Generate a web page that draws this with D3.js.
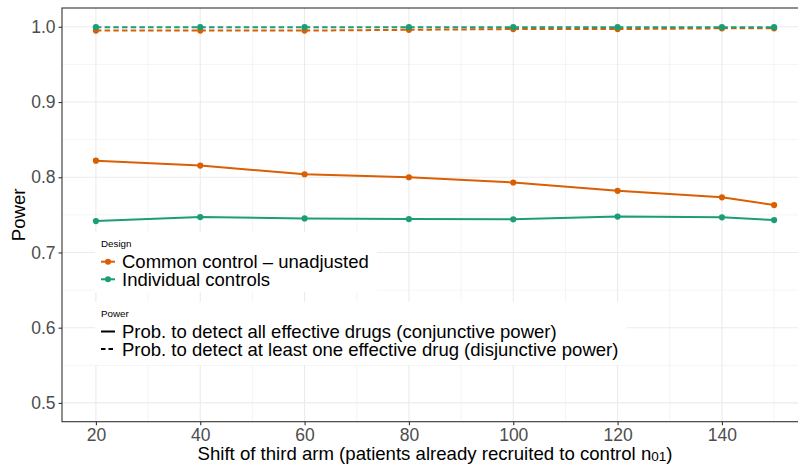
<!DOCTYPE html>
<html>
<head>
<meta charset="utf-8">
<script src="https://cdn.jsdelivr.net/npm/d3@7"></script>
<style>
  body { margin: 0; background: #fff; }
  svg { display: block; font-family: "Liberation Sans", Arial, sans-serif; }
</style>
</head>
<body>
<svg id="chart" width="798" height="464"></svg>
<script>
// ---- data ----
const shifts = [20, 40, 60, 80, 100, 120, 140, 150];
const commonConj = [0.822, 0.8155, 0.804, 0.800, 0.793, 0.782, 0.7733, 0.763];
const indivConj  = [0.7417, 0.747, 0.7453, 0.7444, 0.744, 0.7477, 0.7467, 0.7431];
const commonDisj = [0.995, 0.995, 0.995, 0.996, 0.997, 0.997, 0.998, 0.998];
const indivDisj  = [0.9995, 0.9995, 0.9995, 0.9995, 0.9995, 0.9995, 0.9995, 0.9995];
const xTicks = [20, 40, 60, 80, 100, 120, 140];
const xMinor = [30, 50, 70, 90, 110, 130, 150];
const yTicks = [0.5, 0.6, 0.7, 0.8, 0.9, 1.0];
const yMinor = [0.55, 0.65, 0.75, 0.85, 0.95];
const designNames = ["Common control \u2013 unadjusted", "Individual controls"];
const powerNames = ["Prob. to detect all effective drugs (conjunctive power)",
                    "Prob. to detect at least one effective drug (disjunctive power)"];
const colors = ["#D95F02", "#1B9E77"];

const series = [
  { vals: commonConj, design: 0, dashed: false },
  { vals: indivConj, design: 1, dashed: false },
  { vals: commonDisj, design: 0, dashed: true },
  { vals: indivDisj, design: 1, dashed: true }
];

// ---- layout ----
const svg = d3.select("#chart");
const L = 62, R = 808, T = 8, B = 421.7;
const x = d3.scaleLinear().domain([13.5, 156.5]).range([L, R]);
const y = d3.scaleLinear().domain([0.475, 1.025]).range([B, T]);

// panel background
svg.append("rect").attr("x", L).attr("y", T).attr("width", R - L).attr("height", B - T).attr("fill", "#fff");

// grid
const grid = svg.append("g");
grid.selectAll(".ym").data(yMinor).join("line")
  .attr("x1", L).attr("x2", R).attr("y1", d => y(d)).attr("y2", d => y(d))
  .attr("stroke", "#EBEBEB").attr("stroke-width", 0.55);
grid.selectAll(".xm").data(xMinor).join("line")
  .attr("y1", T).attr("y2", B).attr("x1", d => x(d)).attr("x2", d => x(d))
  .attr("stroke", "#EBEBEB").attr("stroke-width", 0.55);
grid.selectAll(".yM").data(yTicks).join("line")
  .attr("x1", L).attr("x2", R).attr("y1", d => y(d)).attr("y2", d => y(d))
  .attr("stroke", "#EBEBEB").attr("stroke-width", 1.1);
grid.selectAll(".xM").data(xTicks).join("line")
  .attr("y1", T).attr("y2", B).attr("x1", d => x(d)).attr("x2", d => x(d))
  .attr("stroke", "#EBEBEB").attr("stroke-width", 1.1);

// lines
const line = d3.line().x((d, i) => x(shifts[i])).y(d => y(d));
const order = [2, 3, 0, 1];
order.forEach(k => {
  const s = series[k];
  const g = svg.append("g");
  g.append("path").attr("d", line(s.vals)).attr("fill", "none")
    .attr("stroke", colors[s.design]).attr("stroke-width", 2)
    .attr("stroke-dasharray", s.dashed ? "5.5,3.2" : null);
  g.selectAll("circle").data(s.vals).join("circle")
    .attr("cx", (d, i) => x(shifts[i])).attr("cy", d => y(d)).attr("r", 3.1)
    .attr("fill", colors[s.design]);
});

// axes
const xAxis = d3.axisBottom(x).tickValues(xTicks).tickSize(3.5).tickPadding(3).tickFormat(d3.format("d"));
const yAxis = d3.axisLeft(y).tickValues(yTicks).tickSize(3.5).tickPadding(3).tickFormat(d3.format(".1f"));
const gx = svg.append("g").attr("transform", `translate(0,${B})`).call(xAxis);
const gy = svg.append("g").attr("transform", `translate(${L},0)`).call(yAxis);
[gx, gy].forEach(g => {
  g.select(".domain").remove();
  g.selectAll(".tick line").attr("stroke", "#333333").attr("stroke-width", 1.1);
  g.selectAll(".tick text").attr("fill", "#4D4D4D").style("font-size", "17.5px")
    .style("font-family", "'Liberation Sans', Arial, sans-serif");
});

// panel border
svg.append("rect").attr("x", L).attr("y", T).attr("width", R - L).attr("height", B - T)
  .attr("fill", "none").attr("stroke", "#333333").attr("stroke-width", 1.1);

// axis titles
const xt = svg.append("text").attr("x", (L + R) / 2).attr("y", 459.5).attr("text-anchor", "middle")
  .style("font-size", "18.6px").attr("fill", "#000");
xt.append("tspan").text("Shift of third arm (patients already recruited to control n");
xt.append("tspan").text("01").style("font-size", "13.5px").attr("dy", 1.8);
xt.append("tspan").text(")").attr("dy", -1.8);

svg.append("text").attr("transform", `translate(25,${(T + B) / 2}) rotate(-90)`)
  .attr("text-anchor", "middle").style("font-size", "18.6px").attr("fill", "#000").text("Power");

// legends
const lg1 = svg.append("g");
lg1.append("rect").attr("x", 95).attr("y", 232).attr("width", 282).attr("height", 60).attr("fill", "#fff");
lg1.append("text").attr("x", 101).attr("y", 246.5).style("font-size", "9.8px").attr("fill", "#000").text("Design");
designNames.forEach((n, i) => {
  const yy = 261.7 + i * 17.6;
  lg1.append("line").attr("x1", 101).attr("x2", 115).attr("y1", yy).attr("y2", yy)
    .attr("stroke", colors[i]).attr("stroke-width", 2);
  lg1.append("circle").attr("cx", 108).attr("cy", yy).attr("r", 3).attr("fill", colors[i]);
  lg1.append("text").attr("x", 122).attr("y", yy + 6.5).style("font-size", "18.5px").attr("fill", "#000").text(n);
});

const lg2 = svg.append("g");
lg2.append("rect").attr("x", 95).attr("y", 302).attr("width", 532).attr("height", 63).attr("fill", "#fff");
lg2.append("text").attr("x", 101).attr("y", 316.7).style("font-size", "9.8px").attr("fill", "#000").text("Power");
powerNames.forEach((n, i) => {
  const yy = 331.5 + i * 17.6;
  lg2.append("line").attr("x1", 101).attr("x2", 115).attr("y1", yy).attr("y2", yy)
    .attr("stroke", "#000").attr("stroke-width", 2)
    .attr("stroke-dasharray", i === 1 ? "4.5,3" : null);
  lg2.append("text").attr("x", 122).attr("y", yy + 6.5).style("font-size", "18.5px").attr("fill", "#000").text(n);
});
</script>
</body>
</html>
